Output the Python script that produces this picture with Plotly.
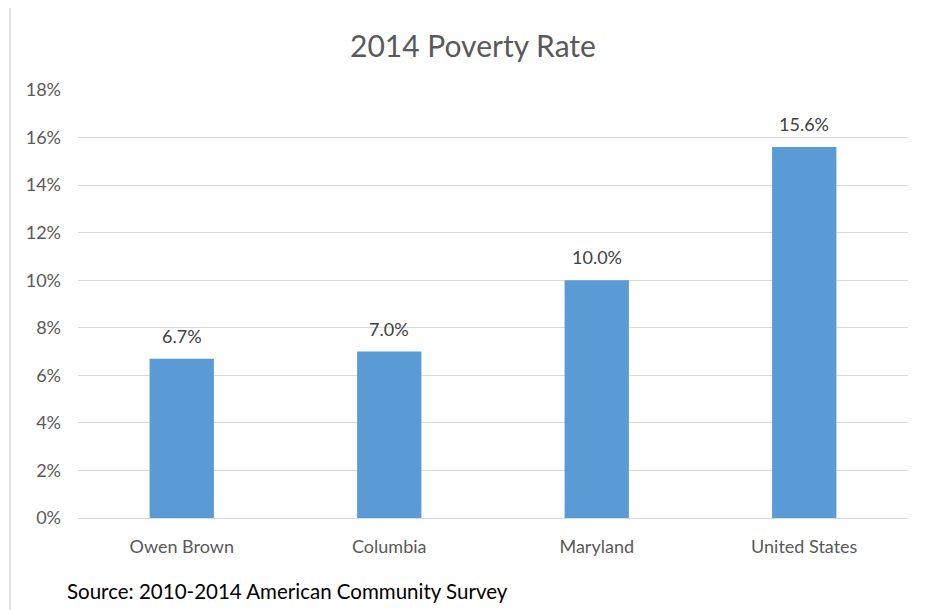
import plotly.graph_objects as go

categories = ["Owen Brown", "Columbia", "Maryland", "United States"]
poverty_rate = [6.7, 7.0, 10.0, 15.6]
bar_labels = ["6.7%", "7.0%", "10.0%", "15.6%"]
y_ticks = [0, 2, 4, 6, 8, 10, 12, 14, 16, 18]
y_tick_labels = [f"{v}%" for v in y_ticks]

FONT = "Lato, Calibri, sans-serif"

# page has an 8px body margin; work in page pixels and shift by OFF
OFF = 8
W, H = 940 - OFF, 610 - OFF
PL, PR, PT, PB = 78, 908, 90, 518  # plot area in page pixels
L, R, T, B = PL - OFF, W - (PR - OFF), PT - OFF, H - (PB - OFF)
pw, ph = W - L - R, H - T - B

def px(x):
    return (x - OFF - L) / pw

def py(y):
    return (H - B - (y - OFF)) / ph

fig = go.Figure(go.Bar(
    x=categories, y=poverty_rate,
    marker=dict(color="#5B9BD5", line=dict(width=0)),
    width=0.31,
    cliponaxis=False,
))

label_annotations = [
    dict(x=c, y=v, xref="x", yref="y", text=t, showarrow=False,
         xanchor="center", yanchor="bottom", yshift=10,
         font=dict(size=18, color="#404040", family=FONT))
    for c, v, t in zip(categories, poverty_rate, bar_labels)
]

fig.update_layout(
    width=W, height=H,
    margin=dict(l=L, r=R, t=T, b=B),
    paper_bgcolor="white", plot_bgcolor="white",
    showlegend=False,
    font=dict(family=FONT, color="#595959"),
    xaxis=dict(showgrid=False, showline=True, linecolor="#d9d9d9", linewidth=1,
               tickfont=dict(size=18, color="#595959"), ticks="",
               ticklabelstandoff=12),
    yaxis=dict(range=[0, 18], tickvals=y_ticks, ticktext=y_tick_labels,
               showgrid=True, gridcolor="#d9d9d9", gridwidth=1,
               zeroline=False, showline=False, ticks="",
               tickfont=dict(size=18, color="#595959"),
               ticklabelstandoff=16),
    shapes=[dict(type="rect", xref="paper", yref="paper",
                 x0=px(10), x1=px(960), y0=py(640), y1=py(6),
                 line=dict(color="#d9d9d9", width=1.5), fillcolor="rgba(0,0,0,0)",
                 layer="below")],
    annotations=[
        dict(text="2014 Poverty Rate", xref="paper", yref="paper",
             x=px(473), y=py(45), xanchor="center", yanchor="middle",
             showarrow=False, font=dict(size=30, color="#595959", family=FONT)),
        dict(text="Source: 2010-2014 American Community Survey", xref="paper", yref="paper",
             x=px(65), y=py(591), xanchor="left", yanchor="middle",
             showarrow=False, font=dict(size=20.5, color="#000000", family=FONT)),
    ] + label_annotations,
)

fig.write_html("out.html")
